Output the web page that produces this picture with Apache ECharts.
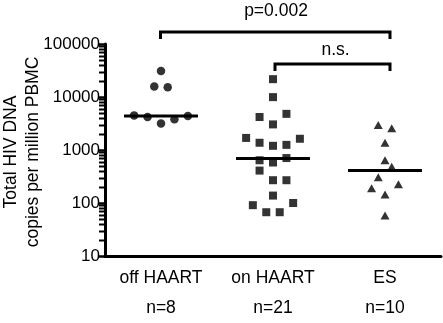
<!DOCTYPE html>
<html>
<head>
<meta charset="utf-8">
<script src="https://cdn.jsdelivr.net/npm/echarts@6/dist/echarts.min.js"></script>
<style>
  html, body { margin: 0; padding: 0; background: #fff; }
  #chart { width: 443px; height: 323px; }
</style>
</head>
<body>
<div id="chart"></div>
<script>
// groups along the x axis
const categories = ["off HAART", "on HAART", "ES"];
const nLabels = ["n=8", "n=21", "n=10"];

// values (copies per million PBMC)
const offHaartValues = [30800, 15800, 15300, 4500, 4190, 3170, 3810, 4380];
const onHaartValues = [21700, 9950, 4190, 4810, 3040, 1690, 1370, 1200, 1250, 1630,
  705, 640, 581, 409, 269, 269, 138, 91, 67, 67, 100];
const esValues = [2970, 2570, 1370, 640, 483, 305, 190, 225, 144, 58];

// horizontal jitter slot of each point inside its column
const offHaartSlots = [0, -1, 1, -4, -2, 0, 2, 4];
const onHaartSlots = [0, 0, -2, 2, 0, -4, -2, 0, 2, 4, 2, -2, 0, -2, 0, 2, 0, -3, -1, 1, 3];
const esSlots = [-1, 1, 0, 0, 1, -1, -2, 2, 0, 0];

// median per group
const medians = [4400, 690, 410];

// minor ticks of the log axis (2..9 in each decade)
const minorTickValues = [];
[10, 100, 1000, 10000].forEach((d) => {
  for (let k = 2; k <= 9; k++) minorTickValues.push(d * k);
});

const SLOT_W = 0.06;
const MEDIAN_HALF = 0.33;
const FONT = "'Liberation Sans', Arial, sans-serif";

const toPoints = (values, slots, group) =>
  values.map((v, i) => [group + slots[i] * SLOT_W, v]);

const chart = echarts.init(document.getElementById("chart"));

const scatterBase = {
  type: "scatter",
  xAxisIndex: 1,
  yAxisIndex: 0,
  itemStyle: { color: "#000" },
  silent: true,
  z: 3,
};

const medianSeries = medians.map((m, i) => ({
  type: "line",
  xAxisIndex: 1,
  yAxisIndex: 0,
  data: [[i + 1 - MEDIAN_HALF, m], [i + 1 + MEDIAN_HALF, m]],
  symbol: "none",
  lineStyle: { color: "#000", width: 3 },
  silent: true,
  z: 4,
}));

// minor ticks drawn on the left edge of the grid through the log scale
const minorTickSeries = {
  type: "custom",
  xAxisIndex: 1,
  yAxisIndex: 0,
  silent: true,
  clip: false,
  z: 5,
  data: minorTickValues.map((v) => [0.5, v]),
  renderItem: (params, api) => {
    const p = api.coord([api.value(0), api.value(1)]);
    const y = Math.round(p[1]) + 0.5;
    return {
      type: "line",
      shape: { x1: p[0] - 6, y1: y, x2: p[0], y2: y },
      style: { stroke: "#000", lineWidth: 2 },
    };
  },
};

const option = {
  animation: false,
  grid: { left: 105, right: 2, top: 44, bottom: 58.5 },
  xAxis: [
    {
      type: "category",
      data: categories,
      boundaryGap: true,
      axisLine: { lineStyle: { color: "#000", width: 3 } },
      axisTick: { alignWithLabel: true, length: 6, lineStyle: { color: "#000", width: 2.5 } },
      axisLabel: {
        color: "#000",
        fontFamily: FONT,
        fontSize: 17.5,
        lineHeight: 30,
        margin: 7,
        formatter: (v, i) => v + "\n" + nLabels[i],
      },
      splitLine: { show: false },
    },
    { type: "value", min: 0.5, max: 3.5, show: false },
  ],
  yAxis: {
    type: "log",
    logBase: 10,
    min: 10,
    max: 100000,
    axisLine: { show: true, lineStyle: { color: "#000", width: 3 } },
    axisTick: { show: true, length: 6, lineStyle: { color: "#000", width: 2.5 } },
    axisLabel: {
      color: "#000",
      fontFamily: FONT,
      fontSize: 17,
      margin: 5,
      formatter: (v) => String(Math.round(v)),
    },
    splitLine: { show: false },
  },
  graphic: [
    {
      type: "text",
      x: 22.6,
      y: 152,
      rotation: Math.PI / 2,
      style: {
        text: "Total HIV DNA\ncopies per million PBMC",
        font: "17.5px " + FONT,
        fill: "#000",
        align: "center",
        verticalAlign: "middle",
        lineHeight: 22,
      },
    },
    {
      type: "polyline",
      shape: { points: [[160.5, 39], [160.5, 32], [390, 32], [390, 39]] },
      style: { stroke: "#000", lineWidth: 3, fill: null },
    },
    {
      type: "polyline",
      shape: { points: [[275, 71], [275, 64], [390, 64], [390, 71]] },
      style: { stroke: "#000", lineWidth: 3, fill: null },
    },
    {
      type: "text",
      x: 276,
      y: 11,
      style: { text: "p=0.002", font: "17.5px " + FONT, fill: "#000", align: "center", verticalAlign: "middle" },
    },
    {
      type: "text",
      x: 335.5,
      y: 50,
      style: { text: "n.s.", font: "17.5px " + FONT, fill: "#000", align: "center", verticalAlign: "middle" },
    },
  ],
  series: [
    minorTickSeries,
    { ...scatterBase, symbol: "circle", symbolSize: 8.5, data: toPoints(offHaartValues, offHaartSlots, 1) },
    { ...scatterBase, symbol: "rect", symbolSize: 8, data: toPoints(onHaartValues, onHaartSlots, 2) },
    { ...scatterBase, symbol: "triangle", symbolSize: [9, 8], data: toPoints(esValues, esSlots, 3) },
    ...medianSeries,
  ],
};

chart.setOption(option);
</script>
</body>
</html>
